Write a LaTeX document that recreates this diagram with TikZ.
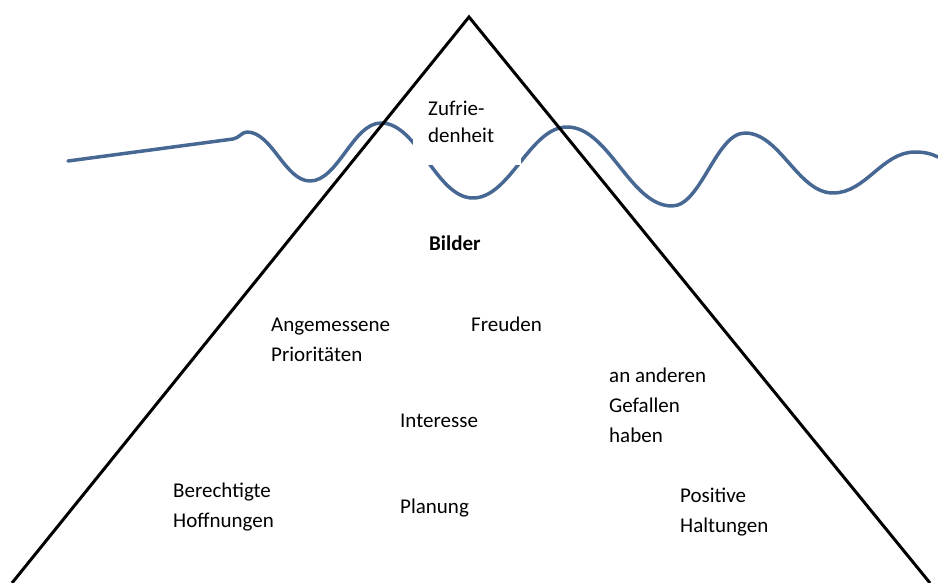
\documentclass[tikz,border=0pt]{standalone}
\usepackage{fontspec}
\setmainfont{Carlito}
\usepackage{tikz}
\usetikzlibrary{positioning,calc}

\definecolor{seablue}{RGB}{72,104,148}

\tikzset{
  wave/.style={seablue,line width=3.5pt,line cap=round,line join=round},
  hill/.style={black,line width=3pt,line join=miter},
  lbl/.style={anchor=base west,align=left,inner sep=0pt,font=\fontsize{21}{30}\selectfont},
}

\begin{document}
\begin{tikzpicture}[x=1pt,y=-1pt]
\useasboundingbox (0,0) rectangle (938,583);

% water line
\draw [wave] (68,161) -- (233,139)
  .. controls (239,138) and (242,132) .. (247,132)
  .. controls (272,132) and (285,181) .. (310,181)
  .. controls (338,181) and (353,123) .. (381,123)
  .. controls (418,123) and (436,198) .. (473,198)
  .. controls (510,198) and (530,127) .. (567,127)
  .. controls (609,127) and (630,206) .. (672,206)
  .. controls (701,206) and (716,133) .. (745,133)
  .. controls (780,133) and (798,193) .. (833,193)
  .. controls (866,193) and (882,152) .. (915,152)
  .. controls (925,152) and (932,154) .. (938,157);

% the mountain
\coordinate (apex) at (469,17);
\coordinate (bl) at (12,583);
\coordinate (br) at (930,583);
\draw [hill] (bl) -- (apex) -- (br);

% text box at the tip (base = last line)
\node (zbox) [fill=white,inner sep=0pt,minimum width=108pt,minimum height=73pt,anchor=north west] at (413,92) {};
\node (zufr) [lbl,font=\fontsize{21}{28}\selectfont] at (428,143) {Zufrie-\\denheit};

\node (bilder) [lbl,font=\fontsize{21}{30}\selectfont\bfseries] at (429,251) {Bilder};
\node (angem) [lbl] at (271,361) {Angemessene\\Prioritäten};
\node (freuden) [lbl] at (471,331) {Freuden};
\node (gefallen) [lbl] at (609,442) {an anderen\\Gefallen\\haben};
\node (interesse) [lbl] at (400,427) {Interesse};
\node (hoffn) [lbl] at (173,527) {Berechtigte\\Hoffnungen};
\node (planung) [lbl] at (400,513) {Planung};
\node (haltung) [lbl] at (680,532) {Positive\\Haltungen};
\end{tikzpicture}
\end{document}
